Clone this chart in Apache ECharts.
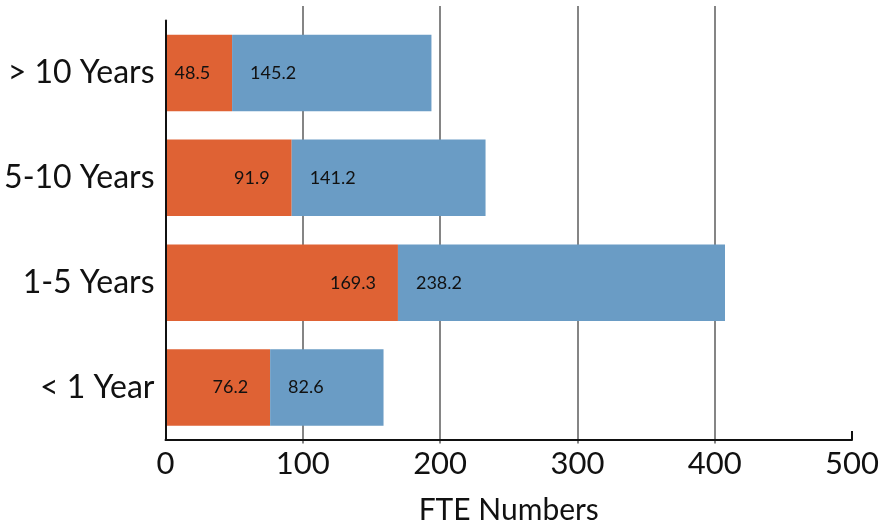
<!DOCTYPE html>
<html>
<head>
<meta charset="utf-8">
<script src="https://cdn.jsdelivr.net/npm/echarts@6/dist/echarts.min.js"></script>
<style>
  html, body { margin: 0; padding: 0; background: #fff; }
  #chart { width: 884px; height: 530px; }
</style>
</head>
<body>
<div id="chart"></div>
<script>
// Tenure bands, listed bottom to top
const categories = ['< 1 Year', '1-5 Years', '5-10 Years', '> 10 Years'];
// First (orange) segment of each stacked bar
const seriesA = [76.2, 169.3, 91.9, 48.5];
// Second (blue) segment of each stacked bar
const seriesB = [82.6, 238.2, 141.2, 145.2];
// Value axis ticks
const xTicks = [0, 100, 200, 300, 400, 500];

const FONT = 'Lato';
const chart = echarts.init(document.getElementById('chart'), null, { renderer: 'canvas' });

const gridLeft = 165.5, gridRight = 32, gridBottom = 86.5;

chart.setOption({
  animation: false,
  textStyle: { fontFamily: FONT },
  grid: [
    { left: gridLeft, right: gridRight, top: 20.5, bottom: gridBottom, containLabel: false },
    { left: gridLeft, right: gridRight, top: 6, bottom: gridBottom, containLabel: false }
  ],
  xAxis: [
    {
      gridIndex: 0,
      type: 'value',
      min: xTicks[0],
      max: xTicks[xTicks.length - 1],
      interval: 100,
      axisLine: { show: true, lineStyle: { color: '#111', width: 2 } },
      axisTick: { show: true, inside: true, length: 9, customValues: [500], lineStyle: { color: '#111', width: 2 } },
      splitLine: { show: false },
      axisLabel: { color: '#111', fontSize: 31, fontFamily: FONT, margin: 8 },
      name: 'FTE Numbers',
      nameLocation: 'middle',
      nameGap: 55,
      nameTextStyle: { color: '#111', fontSize: 30, fontFamily: FONT }
    },
    {
      gridIndex: 1,
      type: 'value',
      min: xTicks[0],
      max: xTicks[xTicks.length - 1],
      interval: 100,
      axisLine: { show: false },
      axisTick: { show: false },
      axisLabel: { show: false },
      splitLine: { show: true, showMinLine: false, showMaxLine: false, lineStyle: { color: '#858585', width: 2 } }
    }
  ],
  yAxis: [
    {
      gridIndex: 0,
      type: 'category',
      data: categories,
      axisLine: { show: true, lineStyle: { color: '#111', width: 2 } },
      axisTick: { show: false },
      axisLabel: { color: '#111', fontSize: 32, fontFamily: FONT, margin: 11, padding: [4, 0, 0, 0] },
      z: 5
    },
    {
      gridIndex: 1,
      type: 'category',
      data: categories,
      show: false
    }
  ],
  series: [
    {
      type: 'bar',
      stack: 'fte',
      xAxisIndex: 0,
      yAxisIndex: 0,
      data: seriesA,
      barCategoryGap: '27%',
      itemStyle: { color: '#DF6234' },
      label: {
        show: true, position: 'insideRight', distance: 22,
        color: '#111', fontSize: 18, fontFamily: FONT
      }
    },
    {
      type: 'bar',
      stack: 'fte',
      xAxisIndex: 0,
      yAxisIndex: 0,
      data: seriesB,
      barCategoryGap: '27%',
      itemStyle: { color: '#6A9CC5' },
      label: {
        show: true, position: 'insideLeft', distance: 18,
        color: '#111', fontSize: 18, fontFamily: FONT
      }
    }
  ]
});
</script>
</body>
</html>
